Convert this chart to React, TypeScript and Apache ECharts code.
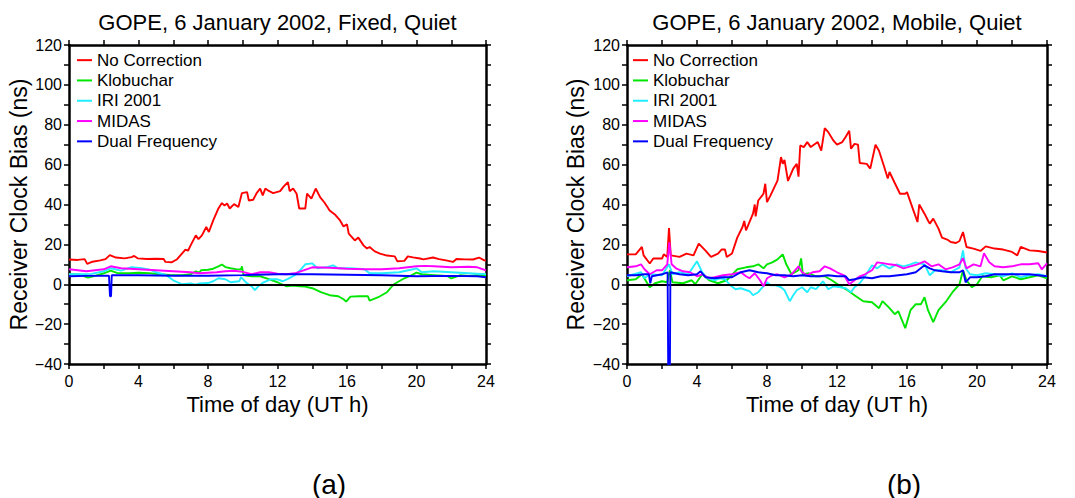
import React, { useEffect, useRef } from 'react';
import * as echarts from 'echarts';

const SERIES_NAMES = ['No Correction', 'Klobuchar', 'IRI 2001', 'MIDAS', 'Dual Frequency'];
const SERIES_COLORS = ['#ff0000', '#00e600', '#22eeff', '#ff00ff', '#0000ff'];
const PANEL_TITLES = ['GOPE, 6 January 2002, Fixed, Quiet', 'GOPE, 6 January 2002, Mobile, Quiet'];
const PANEL_TAGS = ['(a)', '(b)'];
const X_RANGE = [0, 24];
const Y_RANGE = [-40, 120];

const fixedNoCorrection = [
  [0, 12.4], [0.5, 12.2], [0.9, 12.6], [1.05, 10.2], [1.35, 11.3], [1.8, 12], [2.1, 12.6], [2.35, 14.6], [2.7, 13.4],
  [3.2, 13], [3.6, 13.6], [3.75, 14.2], [3.95, 13], [4.5, 12.7], [5.0, 12.8], [5.45, 12.7], [5.55, 11.2], [5.9, 11],
  [6.2, 12.4], [6.5, 15.4], [6.7, 17.4], [6.85, 16.8], [7.0, 19.5], [7.3, 24.5], [7.45, 22.6], [7.65, 24.5], [7.9, 28.7],
  [8.05, 26.2], [8.3, 32], [8.6, 38], [8.8, 40.7], [8.95, 39.5], [9.1, 40.5], [9.25, 38], [9.5, 40.2], [9.75, 38.7],
  [9.95, 45.7], [10.25, 46.2], [10.35, 42], [10.6, 42.4], [10.8, 45.7], [11.0, 48], [11.15, 44.6], [11.3, 48], [11.5, 46.8],
  [11.75, 45.7], [12.15, 46.7], [12.35, 49], [12.6, 51.2], [12.7, 46.7], [12.9, 48], [13.1, 45.4], [13.25, 38], [13.6, 38],
  [13.7, 45.4], [13.95, 43], [14.2, 48], [14.45, 43.7], [14.7, 41], [14.9, 38.4], [15.0, 37], [15.3, 35], [15.6, 32],
  [15.8, 29], [16.0, 30], [16.1, 25.4], [16.45, 22], [16.65, 23.4], [16.95, 19.5], [17.15, 17.9], [17.3, 18.7], [17.6, 16.5],
  [17.9, 15.4], [18.3, 14.4], [18.75, 14], [18.9, 11.5], [19.3, 11.7], [19.5, 14], [19.8, 13.5], [20.2, 12.9], [20.4, 12.5],
  [20.95, 13.4], [21.3, 12.6], [21.7, 12], [22.1, 11.2], [22.3, 12.7], [22.8, 12.5], [23.25, 12.4], [23.6, 13.4], [23.9, 12], [24, 12],
];
const fixedKlobuchar = [
  [0, 5], [0.6, 4.8], [1.1, 3.3], [1.5, 4.2], [2.0, 5.5], [2.4, 6.8], [2.8, 5.6], [3.5, 5.5], [4.0, 5.8], [4.6, 5.6],
  [5.2, 5], [5.8, 4.7], [6.5, 4.5], [7.0, 5], [7.3, 6.5], [7.5, 5.8], [7.6, 7], [8.0, 7.3], [8.3, 7.8], [8.6, 9],
  [8.8, 9.9], [9.0, 8.6], [9.3, 8], [9.6, 7.6], [9.9, 7.4], [9.95, 9], [10.05, 4.5], [10.5, 4], [11.0, 4], [11.5, 2.6],
  [12.0, 1], [12.5, -1], [12.9, -0.6], [13.3, -1], [13.6, -1.2], [14.0, -2], [14.5, -4], [15.0, -5.5], [15.5, -6],
  [15.8, -7.5], [15.95, -8.7], [16.2, -6.2], [16.7, -6], [17.2, -6], [17.3, -8.2], [17.8, -6.5], [18.3, -4], [18.7, 0],
  [19.3, 3], [19.7, 4.5], [20.0, 5.8], [20.3, 5], [21.0, 4.6], [21.5, 4.3], [21.8, 4], [22.0, 2.9], [22.5, 4.5],
  [23.0, 4.2], [23.5, 4.6], [24, 4.2],
];
const fixedIri = [
  [0, 5], [0.6, 5], [1.3, 5.2], [2.0, 6.5], [2.4, 8], [3.0, 6.8], [3.6, 8.6], [4.2, 8], [4.7, 7.2], [5.0, 6], [5.6, 4.5],
  [6.0, 2], [6.5, 0], [7.0, 0.4], [7.3, -0.2], [7.5, 0.4], [8.0, 0.6], [8.3, 1.5], [8.6, 3], [9.0, 2.5], [9.3, 1],
  [9.8, 1.5], [9.9, 3.6], [10.2, 0.8], [10.5, -1], [10.7, -3], [10.9, -1], [11.2, 1], [11.6, 2.5], [12.0, 2.5],
  [12.3, 1.5], [12.6, 2.7], [13.0, 4.5], [13.3, 7], [13.6, 10], [14.0, 10.5], [14.3, 8], [14.8, 8.5], [15.2, 9.5],
  [15.5, 8], [16.2, 8], [17.0, 7.5], [17.3, 5.5], [18.0, 5.5], [19.0, 6], [19.8, 7.5], [20.0, 8], [20.3, 6], [21.0, 6.5],
  [22.0, 6], [23.0, 5.5], [24, 5],
];
const fixedMidas = [
  [0, 7.5], [1, 6.5], [2, 7.5], [2.4, 9], [3, 8], [4, 7.5], [5, 7], [6, 6.5], [7, 6], [7.5, 5.5], [8, 5.8], [8.5, 6],
  [9, 6.5], [9.5, 6.8], [10, 6.2], [10.5, 5], [11, 6], [11.5, 6], [12, 5.3], [12.5, 5], [13, 5.5], [13.5, 7], [14, 8.5],
  [15, 8.3], [16, 7.8], [17, 7.5], [18, 7.5], [19, 8], [20, 9], [20.5, 9.2], [21, 9], [22, 8.5], [23, 8.8], [23.5, 8.5], [24, 7],
];
const fixedDual = [
  [0, 4], [1, 4.2], [2.3, 4.3], [2.36, -6], [2.42, -6], [2.46, 4.5], [4, 4.5], [5, 4.4], [6, 4.3], [8, 4.3], [10, 4.6],
  [12, 5], [14, 5], [16, 4.8], [18, 4.5], [20, 4], [22, 4.2], [23.5, 4], [24, 3.5],
];

const mobileNoCorrection = [
  [0, 15], [0.5, 15], [0.85, 18.7], [0.95, 14.5], [1.3, 10.4], [1.5, 12.9], [2.0, 12.9], [2.1, 15], [2.3, 13.7],
  [2.4, 28.2], [2.5, 14.5], [3.0, 13.7], [3.4, 15.4], [3.8, 14.5], [4.1, 20.4], [4.5, 16.7], [4.8, 13.7], [5.2, 15.4],
  [5.4, 17.4], [5.6, 17.4], [5.7, 13.7], [6.0, 15.4], [6.3, 23.4], [6.6, 28.7], [6.7, 31.7], [6.8, 27], [7.2, 35.4],
  [7.3, 40], [7.35, 34], [7.5, 42], [7.8, 45.4], [7.9, 50.4], [8.0, 41.2], [8.2, 44.6], [8.6, 52], [8.8, 63.8],
  [8.9, 60.4], [9.0, 62.4], [9.2, 51.8], [9.5, 58], [9.7, 60.4], [9.8, 54], [9.9, 69.6], [10.1, 68.8], [10.3, 71.3],
  [10.5, 68.8], [10.9, 71.3], [11.1, 67], [11.3, 78.3], [11.5, 76.3], [11.8, 72], [12.0, 70], [12.3, 71.3], [12.5, 74],
  [12.7, 77], [12.8, 68], [13.0, 70.4], [13.2, 70], [13.3, 60.8], [13.7, 60.4], [13.9, 58], [14.2, 70], [14.4, 67],
  [14.7, 58.8], [14.9, 53], [15.0, 56.3], [15.3, 50.8], [15.6, 45.4], [15.9, 45.4], [16.0, 46.2], [16.3, 38.7],
  [16.6, 31.2], [16.7, 40], [17.0, 35.4], [17.2, 32], [17.3, 30.4], [17.5, 32.9], [17.8, 27.9], [18.0, 23.4],
  [18.3, 22.4], [18.5, 21.2], [18.8, 20.7], [19.0, 21.7], [19.2, 26.2], [19.4, 18.7], [19.8, 17.9], [20.2, 16.7],
  [20.5, 19], [21.0, 17.9], [21.5, 17.4], [22.0, 16.2], [22.3, 14.5], [22.5, 18.7], [23.0, 17], [23.5, 16.7], [24, 15.9],
];
const mobileKlobuchar = [
  [0, 2], [0.5, 2.5], [0.85, 5], [1.3, -1.5], [1.6, 0.5], [2.0, 1.5], [2.3, 1], [2.45, 7], [2.6, 1], [3.2, 0.5],
  [3.7, 2], [3.9, 0], [4.3, 5], [4.7, 2], [5.2, 0.5], [5.7, 2], [6.3, 7.5], [6.8, 8.5], [7.2, 9], [7.5, 10], [7.8, 8],
  [8.0, 10], [8.3, 11], [8.6, 12.5], [8.9, 15], [9.1, 10], [9.4, 5], [9.8, 7], [9.95, 13], [10.05, 5], [10.4, 5.5],
  [10.8, 4], [11.3, 4], [11.7, 2], [12.2, -1], [12.6, -3], [13.0, -5.5], [13.5, -8.5], [14.0, -9], [14.4, -12],
  [14.6, -8.5], [15.0, -12], [15.3, -15], [15.5, -13.5], [15.9, -22], [16.2, -13], [16.5, -10], [16.8, -10],
  [17.0, -6.5], [17.2, -13], [17.5, -19], [17.8, -13], [18.2, -9], [18.6, -4], [19.0, 0], [19.2, 7], [19.4, 2],
  [19.7, -1.5], [20.0, 0], [20.3, 4], [20.8, 3.5], [21.3, 4.5], [21.5, 2], [22, 4], [22.5, 2.5], [23, 3.5], [23.5, 4.5], [24, 3],
];
const mobileIri = [
  [0, 4], [0.8, 6], [1.0, 3], [1.3, 5], [2.0, 4.5], [2.4, 10], [2.6, 5], [3.0, 6], [3.5, 5], [4.0, 11.5], [4.3, 6],
  [4.6, 3], [5.0, 2], [5.3, 3], [5.6, 2.5], [5.9, -0.5], [6.2, -2.5], [6.5, -2], [7.0, -3.5], [7.2, -5.5], [7.5, -4],
  [7.8, -1], [8.0, 1], [8.2, -0.5], [8.5, -0.5], [8.8, -1.5], [9.0, -3], [9.3, -8.5], [9.5, -5.5], [9.7, -3], [10.0, -1.5],
  [10.3, -4], [10.5, -1.5], [10.8, -2.5], [11.2, 1.5], [11.5, -2.5], [11.8, -1], [12.2, -1.5], [12.5, -2], [12.8, -4],
  [13.0, -1.5], [13.3, 0.5], [13.6, 4], [14.0, 9.5], [14.3, 8], [14.6, 10], [15.0, 8], [15.4, 10], [15.8, 9], [16.2, 10],
  [16.5, 11], [16.7, 10.5], [17.0, 10], [17.3, 4.5], [17.6, 7], [18.0, 7], [18.5, 6], [19.0, 8.5], [19.2, 17], [19.35, 8],
  [19.6, 5], [20.0, 4.5], [20.5, 5.5], [21, 5], [21.5, 4], [22, 5.5], [22.5, 3.5], [23, 4.5], [23.5, 5], [24, 4],
];
const mobileMidas = [
  [0, 8.5], [0.5, 9], [0.8, 10], [1.0, 7.5], [1.3, 5], [1.7, 7], [2.0, 7], [2.3, 10], [2.42, 21], [2.55, 10], [2.8, 8],
  [3.2, 6.5], [3.6, 6], [4.0, 4], [4.3, 5], [4.7, 3], [5.0, 3.5], [5.5, 4.5], [6.0, 5], [6.5, 6], [6.8, 4], [7.0, 3],
  [7.3, 5.5], [7.6, 2], [7.8, -1], [8.0, 3], [8.3, 4.5], [8.6, 5], [9.0, 3.5], [9.4, 5], [9.8, 9], [10.0, 6], [10.3, 4.5],
  [10.6, 6], [11.0, 6.5], [11.3, 9], [11.6, 8], [12.0, 6], [12.4, 4.5], [12.7, 0], [13.0, 2], [13.3, 4], [13.6, 5],
  [14.0, 7], [14.3, 11], [14.7, 10.5], [15.0, 10], [15.4, 9.5], [15.8, 8], [16.2, 9], [16.6, 10], [17.0, 11.5],
  [17.4, 9], [17.8, 10], [18.2, 7.5], [18.6, 8.5], [19.0, 10], [19.2, 13], [19.4, 8], [19.8, 10], [20.2, 9], [20.4, 15.5],
  [20.7, 11], [21.0, 9], [21.5, 8.5], [22.0, 9], [22.5, 10], [23.0, 10], [23.5, 10.5], [23.7, 7.5], [24, 10.5],
];
const mobileDual = [
  [0, 4.5], [0.5, 4.5], [1.0, 5], [1.25, 5], [1.33, 0.5], [1.42, 4], [2.0, 5], [2.32, 6], [2.37, -60], [2.44, -60],
  [2.48, 6], [3.0, 5], [3.5, 4.5], [4.0, 5], [4.2, 6.5], [4.5, 3.5], [5.0, 3], [5.5, 3.5], [6.0, 3.5], [6.5, 6],
  [7.0, 7], [7.5, 6], [8.0, 5.5], [8.5, 4.5], [9.0, 4.5], [9.5, 4], [10.0, 4.5], [10.5, 4], [11.0, 4], [11.5, 4.5],
  [12.0, 4], [12.5, 4], [12.7, 2], [13.0, 2.5], [13.5, 3.5], [14.0, 3], [14.5, 4], [15.0, 4], [15.5, 4.5], [16.0, 5],
  [16.5, 6], [17.0, 9.5], [17.3, 8], [17.6, 7], [18.0, 6.5], [18.5, 6], [19.0, 6], [19.2, 7], [19.35, 1], [19.6, 3.5],
  [20.0, 3.5], [20.5, 4], [21.0, 5], [21.5, 5], [22.0, 5], [22.5, 5], [23.0, 5], [24, 4],
];

const FIXED_DATA = [fixedNoCorrection, fixedKlobuchar, fixedIri, fixedMidas, fixedDual];
const MOBILE_DATA = [mobileNoCorrection, mobileKlobuchar, mobileIri, mobileMidas, mobileDual];

const FONT = '"Liberation Sans", Arial, Helvetica, sans-serif';

export default function App() {
  const ref = useRef<HTMLDivElement>(null);

  useEffect(() => {
    if (!ref.current) return;
    const chart = echarts.init(ref.current, undefined, { renderer: 'svg' });

    const grids = [
      { left: 69, top: 45, width: 417, height: 319 },
      { left: 627, top: 45, width: 420, height: 319 },
    ];
    const axisLine = { show: true, onZero: false, lineStyle: { color: '#000', width: 2.5 } };
    const axisTick = { show: true, inside: false, length: 5, lineStyle: { color: '#000', width: 1.5 } };
    const labelStyle = { color: '#000', fontFamily: FONT, fontSize: 16 };

    const xAxes: any[] = [];
    const yAxes: any[] = [];
    grids.forEach((_, i) => {
      xAxes.push({
        type: 'value', gridIndex: i, position: 'bottom', min: X_RANGE[0], max: X_RANGE[1], interval: 2,
        axisLine, axisTick, splitLine: { show: false },
        axisLabel: { ...labelStyle, margin: 9, formatter: (v: number) => (v % 4 === 0 ? String(v) : '') },
        name: 'Time of day (UT h)', nameLocation: 'middle', nameGap: 19,
        nameTextStyle: { color: '#000', fontFamily: FONT, fontSize: 22, verticalAlign: 'top' },
      });
      xAxes.push({
        type: 'value', gridIndex: i, position: 'top', min: X_RANGE[0], max: X_RANGE[1], interval: 2,
        axisLine, axisTick, axisLabel: { show: false }, splitLine: { show: false },
      });
      yAxes.push({
        type: 'value', gridIndex: i, position: 'left', min: Y_RANGE[0], max: Y_RANGE[1], interval: 10,
        axisLine, axisTick, splitLine: { show: false },
        axisLabel: {
          ...labelStyle, margin: 7,
          formatter: (v: number) => (v % 20 === 0 ? String(v).replace('-', '\u2212') : ''),
        },
        name: 'Receiver Clock Bias (ns)', nameLocation: 'middle', nameGap: i === 0 ? 38 : 40,
        nameTextStyle: { color: '#000', fontFamily: FONT, fontSize: 23 },
      });
      yAxes.push({
        type: 'value', gridIndex: i, position: 'right', min: Y_RANGE[0], max: Y_RANGE[1], interval: 10,
        axisLine, axisTick, axisLabel: { show: false }, splitLine: { show: false },
      });
    });

    const series: any[] = [];
    [FIXED_DATA, MOBILE_DATA].forEach((set, p) => {
      set.forEach((data, k) => {
        const s: any = {
          type: 'line', name: SERIES_NAMES[k], data, xAxisIndex: p * 2, yAxisIndex: p * 2,
          showSymbol: false, symbol: 'none', clip: true,
          lineStyle: { color: SERIES_COLORS[k], width: 1.9 },
          itemStyle: { color: SERIES_COLORS[k] },
          z: 2 + k,
        };
        if (k === 0) {
          s.markLine = {
            silent: true, symbol: 'none', label: { show: false },
            lineStyle: { color: '#000', width: 2, type: 'solid' },
            data: [{ yAxis: 0 }],
          };
        }
        series.push(s);
      });
    });

    const legends = [77, 633].map((left) => ({
      left, top: 50, orient: 'vertical', itemWidth: 15, itemHeight: 2, itemGap: 0, icon: 'rect',
      selectedMode: false, padding: 0,
      textStyle: { color: '#000', fontFamily: FONT, fontSize: 17, lineHeight: 20.3 },
      data: SERIES_NAMES,
    }));

    const centers = grids.map((g) => g.left + g.width / 2);

    chart.setOption({
      animation: false,
      backgroundColor: '#fff',
      title: PANEL_TITLES.map((t, i) => ({
        text: t, left: centers[i], top: 11, textAlign: 'center', padding: 0,
        textStyle: { color: '#000', fontFamily: FONT, fontSize: 22, fontWeight: 'normal' },
      })),
      grid: grids,
      xAxis: xAxes,
      yAxis: yAxes,
      legend: legends,
      series,
      graphic: PANEL_TAGS.map((t, i) => ({
        type: 'text', x: i === 0 ? 329 : 904, y: 484,
        style: { text: t, fontFamily: FONT, fontSize: 28, fill: '#000', align: 'center', verticalAlign: 'middle' },
      })),
    });

    return () => chart.dispose();
  }, []);

  return (
    <div
      ref={ref}
      style={{ position: 'fixed', left: 0, top: 0, width: 1075, height: 498, background: '#fff' }}
    />
  );
}
